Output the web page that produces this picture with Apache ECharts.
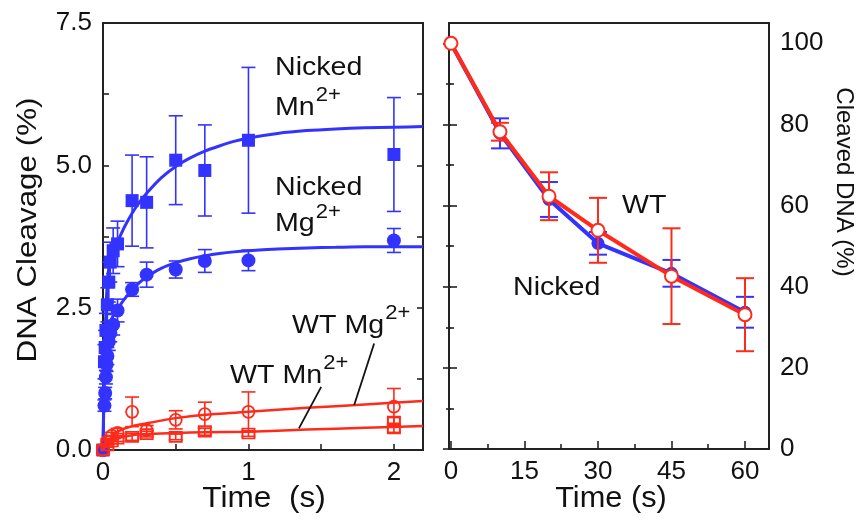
<!DOCTYPE html>
<html>
<head>
<meta charset="utf-8">
<script src="https://cdn.jsdelivr.net/npm/echarts@6/dist/echarts.min.js"></script>
<style>
  html, body { margin: 0; padding: 0; background: #fff; }
  #chart { width: 861px; height: 525px; }
</style>
</head>
<body>
<div id="chart"></div>
<script>
// ---------- Left panel: cleavage time courses (s) ----------
const nickedMnTime  = [0, 0.01, 0.015, 0.02, 0.03, 0.04, 0.05, 0.07, 0.1, 0.2, 0.3, 0.5, 0.7, 1.0, 2.0];
const nickedMnValue = [0, 1.55, 1.8, 2.1, 2.55, 2.95, 3.3, 3.5, 3.62, 4.38, 4.35, 5.09, 4.91, 5.44, 5.19];
const nickedMnError = [0, 0.3, 0.3, 0.3, 0.3, 0.35, 0.35, 0.4, 0.4, 0.8, 0.8, 0.78, 0.8, 1.28, 1.0];

const nickedMgTime  = [0, 0.01, 0.015, 0.02, 0.025, 0.03, 0.04, 0.05, 0.07, 0.1, 0.2, 0.3, 0.5, 0.7, 1.0, 2.0];
const nickedMgValue = [0, 0.78, 1.0, 1.28, 1.5, 1.65, 1.9, 2.05, 2.2, 2.45, 2.82, 3.08, 3.17, 3.32, 3.33, 3.68];
const nickedMgError = [0, 0.1, 0.1, 0.12, 0.12, 0.15, 0.15, 0.15, 0.18, 0.2, 0.12, 0.22, 0.15, 0.2, 0.18, 0.21];

const wtMgTime  = [0, 0.03, 0.06, 0.1, 0.2, 0.3, 0.5, 0.7, 1.0, 2.0];
const wtMgValue = [0, 0.15, 0.25, 0.3, 0.67, 0.35, 0.53, 0.63, 0.67, 0.76];
const wtMgError = [0, 0.05, 0.06, 0.08, 0.26, 0.08, 0.16, 0.21, 0.35, 0.32];

const wtMnTime  = [0, 0.03, 0.06, 0.1, 0.2, 0.3, 0.5, 0.7, 1.0, 2.0, 2.0];
const wtMnValue = [0, 0.08, 0.15, 0.2, 0.23, 0.28, 0.23, 0.32, 0.29, 0.5, 0.38];
const wtMnError = [0, 0.03, 0.04, 0.05, 0.06, 0.05, 0.05, 0.06, 0.05, 0.07, 0.07];

// fitted curves, sampled along the drawn fits
const nickedFitTime    = [0, 0.005, 0.01, 0.02, 0.03, 0.04, 0.05, 0.06, 0.08, 0.1, 0.15, 0.2, 0.25, 0.3, 0.4, 0.5, 0.6, 0.7, 0.8, 0.9, 1.0, 1.2, 1.4, 1.6, 1.8, 2.0, 2.2];
const nickedMnFitValue = [0, 0.9, 1.6, 2.45, 2.95, 3.2, 3.35, 3.45, 3.56, 3.66, 3.93, 4.16, 4.35, 4.51, 4.78, 4.98, 5.13, 5.25, 5.34, 5.42, 5.48, 5.56, 5.61, 5.64, 5.66, 5.67, 5.68];
const nickedMgFitValue = [0, 0.7, 1.25, 1.8, 2.05, 2.17, 2.25, 2.31, 2.4, 2.48, 2.66, 2.81, 2.94, 3.04, 3.19, 3.29, 3.36, 3.41, 3.45, 3.48, 3.5, 3.53, 3.55, 3.56, 3.57, 3.57, 3.57];
const wtFitTime    = [0, 0.02, 0.05, 0.1, 0.2, 0.3, 0.5, 0.7, 1.0, 1.4, 1.8, 2.2];
const wtMgFitValue = [0, 0.1, 0.2, 0.32, 0.42, 0.47, 0.56, 0.62, 0.67, 0.74, 0.8, 0.86];
const wtMnFitValue = [0, 0.07, 0.14, 0.21, 0.26, 0.28, 0.3, 0.31, 0.32, 0.36, 0.39, 0.42];

// leader lines from the WT labels to their curves
const wtMgLeader = [[1.864, 1.87], [1.727, 0.79]];
const wtMnLeader = [[1.50, 1.11], [1.347, 0.38]];

const leftTimeLabels  = [0, 1, 2];
const leftTimeTicks   = [0, 0.5, 1, 1.5, 2];
const cleavageLabels  = [0, 2.5, 5, 7.5];
const cleavageTicks   = [0, 1.25, 2.5, 3.75, 5, 6.25, 7.5];

// ---------- Right panel: remaining DNA ----------
const cleaveTime         = [0, 10, 20, 30, 45, 60];
const wtCleaved          = [100, 78.2, 62.3, 53.9, 42.6, 33.1];
const wtCleavedError     = [0, 2.2, 5.9, 8.0, 11.8, 9.0];
const nickedCleaved      = [100, 77.8, 61.5, 50.7, 43.3, 33.7];
const nickedCleavedError = [0, 3.7, 4.3, 2.8, 3.3, 3.8];

const rightTimeLabels  = [0, 15, 30, 45, 60];
const rightTimeMinor   = [7.5, 22.5, 37.5, 52.5];
const cleavedLabels    = [0, 20, 40, 60, 80, 100];
const cleavedMinor     = [10, 30, 50, 70, 90];

// ---------- styling ----------
const BLUE = '#3333ff';
const RED = '#ff2a1a';
const INK = '#111';
const FRAME = '#222';
const FONT = 'Liberation Sans';

const zip = (xs, ys) => xs.map((x, i) => [x, ys[i]]);
const zip3 = (xs, ys, es) => xs.map((x, i) => [x, ys[i], es[i]]);

function errorBars(name, xi, yi, data, color, capHalf, width, z) {
  return {
    name, type: 'custom', xAxisIndex: xi, yAxisIndex: yi, z, clip: false,
    encode: { x: 0, y: 1 },
    data: data.filter(d => d[2] > 0),
    renderItem(params, api) {
      const x = api.value(0), y = api.value(1), e = api.value(2);
      const top = api.coord([x, y + e]);
      const bot = api.coord([x, y - e]);
      const st = { stroke: color, lineWidth: width };
      return {
        type: 'group',
        children: [
          { type: 'line', shape: { x1: top[0], y1: top[1], x2: bot[0], y2: bot[1] }, style: st },
          { type: 'line', shape: { x1: top[0] - capHalf, y1: top[1], x2: top[0] + capHalf, y2: top[1] }, style: st },
          { type: 'line', shape: { x1: bot[0] - capHalf, y1: bot[1], x2: bot[0] + capHalf, y2: bot[1] }, style: st }
        ]
      };
    }
  };
}

function tickAxis(base, ticks, length, labels, labelOpts) {
  return Object.assign({
    type: 'value',
    axisLine: { show: false },
    splitLine: { show: false },
    axisTick: { show: true, inside: true, length, customValues: ticks, lineStyle: { color: FRAME, width: 1.6 } },
    axisLabel: labels
      ? Object.assign({ show: true, customValues: labels, fontFamily: FONT, fontSize: 26, color: INK }, labelOpts)
      : { show: false }
  }, base);
}

const measureCtx = document.createElement('canvas').getContext('2d');
function textWidth(str, size) {
  measureCtx.font = size + 'px "' + FONT + '"';
  return measureCtx.measureText(str).width;
}

function text(x, y, str, size, opts) {
  opts = opts || {};
  return {
    type: 'text', x, y, rotation: opts.rotation || 0, scaleX: opts.scaleX || 1, z: 100,
    style: {
      text: str, fontFamily: FONT, fontSize: size, fill: INK,
      align: opts.align || 'left', verticalAlign: 'middle',
      textAlign: opts.align || 'left', textVerticalAlign: 'middle'
    }
  };
}

// main text followed by a raised superscript
function supText(x, y, main, sup) {
  const scale = 1.1;
  const w = textWidth(main, 26) * scale;
  return [
    text(x, y, main, 26, { scaleX: scale }),
    text(x + w + 1, y - 12, sup, 20, { scaleX: scale })
  ];
}

function fitLine(name, times, values, color, width, z) {
  return {
    name, type: 'line', xAxisIndex: 0, yAxisIndex: 0, z, showSymbol: false, smooth: 0.2,
    data: zip(times, values), lineStyle: { color, width }
  };
}

const chart = echarts.init(document.getElementById('chart'), null, { renderer: 'canvas' });

const option = {
  animation: false,
  backgroundColor: '#fff',
  grid: [
    { left: 103, top: 23, width: 320, height: 427, show: true, borderColor: FRAME, borderWidth: 2, backgroundColor: 'transparent' },
    { left: 449, top: 23, width: 320, height: 426, show: true, borderColor: FRAME, borderWidth: 2, backgroundColor: 'transparent' }
  ],
  xAxis: [
    tickAxis({ gridIndex: 0, position: 'bottom', min: 0, max: 2.2 }, leftTimeTicks, 6, leftTimeLabels, { margin: 10 }),
    tickAxis({ gridIndex: 1, position: 'bottom', min: -0.4, max: 64.9 }, rightTimeLabels, 8, rightTimeLabels, { margin: 10 }),
    tickAxis({ gridIndex: 1, position: 'bottom', min: -0.4, max: 64.9 }, rightTimeMinor, 5, null)
  ],
  yAxis: [
    tickAxis({ gridIndex: 0, position: 'left', min: 0, max: 7.5 }, cleavageTicks, 6, cleavageLabels,
      { margin: 11, formatter: v => Number(v).toFixed(1) }),
    tickAxis({ gridIndex: 0, position: 'right', min: 0, max: 7.5 }, cleavageTicks, 6, null),
    tickAxis({ gridIndex: 1, position: 'right', min: 0, max: 105 }, cleavedLabels, 8, cleavedLabels, { margin: 11 }),
    tickAxis({ gridIndex: 1, position: 'right', min: 0, max: 105 }, cleavedMinor, 5, null),
    tickAxis({ gridIndex: 1, position: 'left', min: 0, max: 105 }, cleavedLabels, 8, null),
    tickAxis({ gridIndex: 1, position: 'left', min: 0, max: 105 }, cleavedMinor, 5, null)
  ],
  series: [
    // ---- left panel ----
    fitLine('Nicked Mn fit', nickedFitTime, nickedMnFitValue, BLUE, 3, 3),
    fitLine('Nicked Mg fit', nickedFitTime, nickedMgFitValue, BLUE, 3, 3),
    errorBars('Nicked Mn err', 0, 0, zip3(nickedMnTime, nickedMnValue, nickedMnError), BLUE, 7, 1.6, 4),
    errorBars('Nicked Mg err', 0, 0, zip3(nickedMgTime, nickedMgValue, nickedMgError), BLUE, 7, 1.6, 4),
    { name: 'Nicked Mn', type: 'scatter', xAxisIndex: 0, yAxisIndex: 0, z: 5, clip: false, symbol: 'rect', symbolSize: 13,
      data: zip(nickedMnTime, nickedMnValue), itemStyle: { color: BLUE, opacity: 1 } },
    { name: 'Nicked Mg', type: 'scatter', xAxisIndex: 0, yAxisIndex: 0, z: 5, clip: false, symbol: 'circle', symbolSize: 14,
      data: zip(nickedMgTime, nickedMgValue), itemStyle: { color: BLUE, opacity: 1 } },
    errorBars('WT Mg err', 0, 0, zip3(wtMgTime, wtMgValue, wtMgError), RED, 7, 1.6, 6),
    errorBars('WT Mn err', 0, 0, zip3(wtMnTime, wtMnValue, wtMnError), RED, 7, 1.6, 6),
    { name: 'WT Mg', type: 'scatter', xAxisIndex: 0, yAxisIndex: 0, z: 7, clip: false, symbol: 'circle', symbolSize: 12,
      data: zip(wtMgTime, wtMgValue), itemStyle: { color: 'rgba(255,255,255,0)', borderColor: RED, borderWidth: 1.8, opacity: 1 } },
    { name: 'WT Mn', type: 'scatter', xAxisIndex: 0, yAxisIndex: 0, z: 7, clip: false, symbol: 'rect', symbolSize: [12, 10],
      data: zip(wtMnTime, wtMnValue), itemStyle: { color: 'rgba(255,255,255,0)', borderColor: RED, borderWidth: 1.8, opacity: 1 } },
    fitLine('WT Mg fit', wtFitTime, wtMgFitValue, RED, 2.5, 8),
    fitLine('WT Mn fit', wtFitTime, wtMnFitValue, RED, 2.5, 8),
    { name: 'WT Mg leader', type: 'line', xAxisIndex: 0, yAxisIndex: 0, z: 9, showSymbol: false,
      data: wtMgLeader, lineStyle: { color: INK, width: 1.8 } },
    { name: 'WT Mn leader', type: 'line', xAxisIndex: 0, yAxisIndex: 0, z: 9, showSymbol: false,
      data: wtMnLeader, lineStyle: { color: INK, width: 1.8 } },

    // ---- right panel ----
    { name: 'Nicked', type: 'line', xAxisIndex: 1, yAxisIndex: 2, z: 3, clip: false,
      data: zip(cleaveTime, nickedCleaved), symbol: 'circle', symbolSize: 13, showSymbol: true,
      lineStyle: { color: BLUE, width: 4 }, itemStyle: { color: BLUE } },
    errorBars('Nicked err', 1, 2, zip3(cleaveTime, nickedCleaved, nickedCleavedError), BLUE, 9, 2, 4),
    errorBars('WT err', 1, 2, zip3(cleaveTime, wtCleaved, wtCleavedError), RED, 9, 2, 5),
    { name: 'WT', type: 'line', xAxisIndex: 1, yAxisIndex: 2, z: 6, clip: false,
      data: zip(cleaveTime, wtCleaved), symbol: 'circle', symbolSize: 13, showSymbol: true,
      lineStyle: { color: RED, width: 4 }, itemStyle: { color: '#fff', borderColor: RED, borderWidth: 2 } }
  ],
  graphic: [
    // axis titles
    text(28, 230, 'DNA Cleavage (%)', 28, { rotation: Math.PI / 2, align: 'center', scaleX: 1.12 }),
    text(264, 499, 'Time  (s)', 29, { align: 'center', scaleX: 1.09 }),
    text(611, 499, 'Time (s)', 29, { align: 'center', scaleX: 1.06 }),
    text(844, 182, 'Cleaved DNA (%)', 24, { rotation: -Math.PI / 2, align: 'center' }),
    // curve labels, left panel
    text(275, 67.5, 'Nicked', 26, { scaleX: 1.1 }),
    ...supText(275, 107.5, 'Mn', '2+'),
    text(275, 187.5, 'Nicked', 26, { scaleX: 1.1 }),
    ...supText(275, 224, 'Mg', '2+'),
    ...supText(292, 325.5, 'WT Mg', '2+'),
    ...supText(230, 375.5, 'WT Mn', '2+'),
    // curve labels, right panel
    text(622, 205.5, 'WT', 26, { scaleX: 1.1 }),
    text(513, 288, 'Nicked', 26, { scaleX: 1.1 })
  ]
};

chart.setOption(option);
</script>
</body>
</html>
